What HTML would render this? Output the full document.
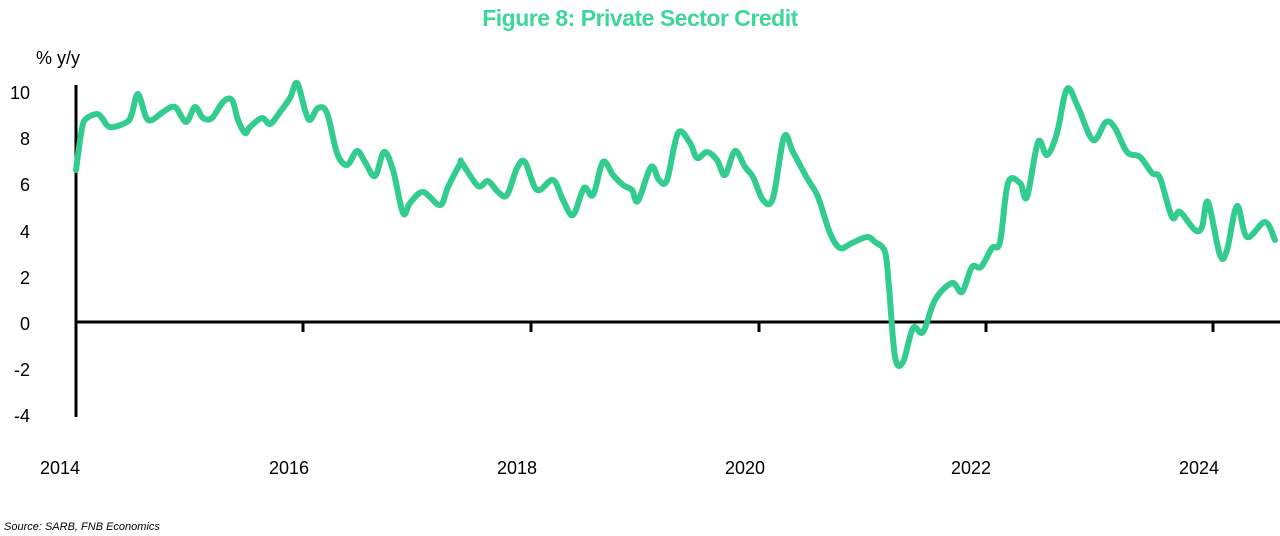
<!DOCTYPE html>
<html><head><meta charset="utf-8"><style>
html,body{margin:0;padding:0;background:#fff;}
svg{display:block;font-family:"Liberation Sans",Arial,sans-serif;}
</style></head><body>
<svg width="1280" height="536" viewBox="0 0 1280 536" xmlns="http://www.w3.org/2000/svg">
<text x="640" y="26" text-anchor="middle" font-size="23" font-weight="bold" fill="#3fd69a" letter-spacing="-0.5">Figure 8: Private Sector Credit</text>
<text x="36" y="64" font-size="18" fill="#000">% y/y</text>
<g font-size="18" fill="#000" text-anchor="end">
<text x="30" y="99">10</text><text x="30" y="145">8</text><text x="30" y="191">6</text><text x="30" y="238">4</text><text x="30" y="284">2</text><text x="30" y="330">0</text><text x="30" y="376">-2</text><text x="30" y="422">-4</text>
</g>
<g font-size="18" fill="#000" text-anchor="middle">
<text x="60" y="474">2014</text><text x="289" y="474">2016</text><text x="517" y="474">2018</text><text x="745" y="474">2020</text><text x="971" y="474">2022</text><text x="1199" y="474">2024</text>
</g>
<text x="4" y="530" font-size="11" font-style="italic" fill="#000">Source: SARB, FNB Economics</text>
<line x1="76" y1="85" x2="76" y2="417" stroke="#000" stroke-width="3"/>
<line x1="76" y1="322" x2="1280" y2="322" stroke="#000" stroke-width="3"/>
<g stroke="#000" stroke-width="3">
<line x1="303" y1="322" x2="303" y2="332"/><line x1="531" y1="322" x2="531" y2="332"/><line x1="759" y1="322" x2="759" y2="332"/><line x1="986" y1="322" x2="986" y2="332"/><line x1="1213" y1="322" x2="1213" y2="332"/>
</g>
<polyline id="ln" fill="none" stroke="#33cc8f" stroke-width="6" stroke-linejoin="round" stroke-linecap="round" points="
76,170 82,128 87,118 97,114 102,118 110,127 127,122 132,113 138,94 146,117 152,120 163,112 175,107 186,122 195,107 203,118 212,118 223,102 232,100 238,120 245,133 250,127 262,118 270,124 280,112 290,98 297,83 305,110 310,120 318,108 327,113 337,153 347,165 357,151 365,162 375,176 384,152 393,170 403,213 410,203 423,192 440,205 448,187 460,164 462,163 478,186 488,181 498,192 507,195 517,168 525,162 537,190 553,180 563,200 573,215 584,188 593,195 603,162 613,175 623,185 632,190 638,201 651,167 659,180 667,180 678,133 690,143 697,158 707,152 717,160 725,175 735,151 745,167 753,177 763,200 773,198 784,137 793,152 807,178 818,197 830,233 840,248 852,243 867,237 875,242 885,252 889,287 895,357 903,362 913,328 923,332 935,300 952,283 962,292 972,267 981,267 992,248 1000,242 1008,183 1020,183 1027,197 1038,142 1047,155 1057,133 1067,89 1078,107 1093,140 1106,122 1115,128 1127,152 1140,157 1152,173 1160,178 1172,217 1180,212 1195,230 1202,227 1208,202 1220,255 1227,250 1237,206 1247,237 1265,222 1275,240"/>
</svg>
<script>
(function(){
var pl=document.getElementById('ln');
var p=pl.getAttribute('points').trim().split(/\s+/).map(function(s){return s.split(',').map(Number);});
var d='M'+p[0][0]+','+p[0][1];
for(var i=0;i<p.length-1;i++){
var p0=p[i-1]||p[i],p1=p[i],p2=p[i+1],p3=p[i+2]||p2;
var c1x=p1[0]+(p2[0]-p0[0])/6,c1y=p1[1]+(p2[1]-p0[1])/6;
var c2x=p2[0]-(p3[0]-p1[0])/6,c2y=p2[1]-(p3[1]-p1[1])/6;
d+=' C'+c1x.toFixed(1)+','+c1y.toFixed(1)+' '+c2x.toFixed(1)+','+c2y.toFixed(1)+' '+p2[0]+','+p2[1];
}
var path=document.createElementNS('http://www.w3.org/2000/svg','path');
path.setAttribute('d',d);
['fill','stroke','stroke-width','stroke-linejoin','stroke-linecap'].forEach(function(a){path.setAttribute(a,pl.getAttribute(a));});
pl.parentNode.replaceChild(path,pl);
})();
</script>
</body></html>
